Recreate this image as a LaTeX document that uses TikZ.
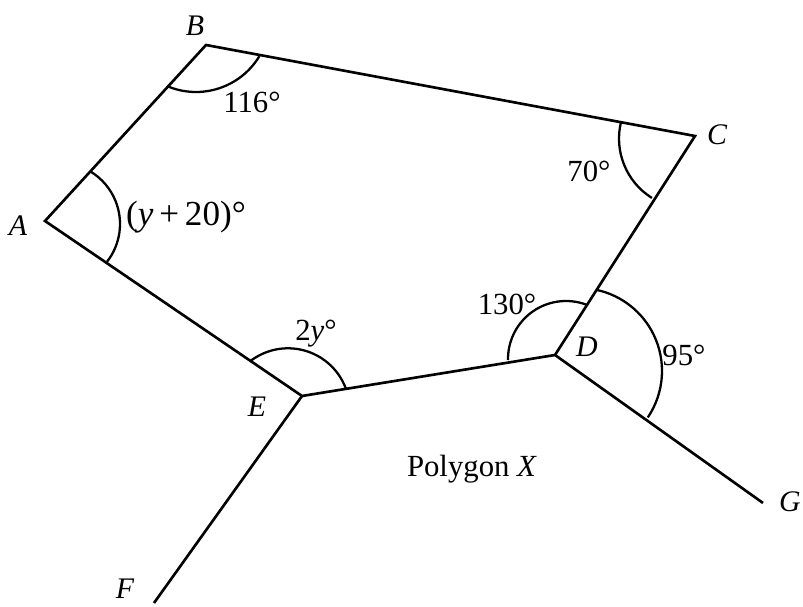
\documentclass[tikz,border=0pt]{standalone}
\usepackage{fontspec}
\setmainfont{Liberation Serif}
\begin{document}
\begin{tikzpicture}[x=0.02cm,y=0.02cm,line width=1.5pt,
    lbl/.style={font=\fontsize{17}{20}\selectfont\itshape},
    ang/.style={font=\fontsize{17.5}{20}\selectfont},
    arcline/.style={line width=1.3pt}]
       \useasboundingbox (0,0) rectangle (803,607);
       \coordinate (A) at (45,386);
       \coordinate (B) at (206,562);
       \coordinate (C) at (695,471);
       \coordinate (D) at (555,252);
       \coordinate (E) at (302,211);
       \coordinate (F) at (154,4);
       \coordinate (G) at (763,104);
       \draw[line join=miter] (A) -- (B) -- (C) -- (D) -- (E) -- cycle;
       \draw (E) -- (F);
       \draw (D) -- (G);
       % angle arcs
       \draw[arcline] (58.6,383) ++(-38:61.4) arc[start angle=-38, end angle=58, radius=61.4];
       \draw[arcline] (196,589) ++(247:74) arc[start angle=247, end angle=329, radius=74];
       \draw[arcline] (689,468.4) ++(166:70) arc[start angle=166, end angle=238, radius=70];
       \draw[arcline] (288,197) ++(20:61.7) arc[start angle=20, end angle=128, radius=61.7];
       \draw[arcline] (566,248) ++(69:58) arc[start angle=69, end angle=181, radius=58];
       \draw[arcline] (579,236) ++(-34:83) arc[start angle=-34, end angle=77.5, radius=83];
       % vertex labels
       \node[lbl] (lA) at (18,381) {A};
       \node[lbl] (lB) at (195,581) {B};
       \node[lbl] (lC) at (717,472) {C};
       \node[lbl] (lD) at (587,260) {D};
       \node[lbl] (lE) at (257,200) {E};
       \node[lbl] (lF) at (125,18) {F};
       \node[lbl] (lG) at (790,105) {G};
       % angle labels
       \node[ang] (aB) at (252,505) {116°};
       \node[ang] (aA) at (186,390) {\fontsize{20}{22}\selectfont(\textit{y}\,+\,20)°};
       \node[ang] (aC) at (589,436) {70°};
       \node[ang] (aD) at (507,303) {130°};
       \node[ang] (aE) at (316,273) {2\textit{y}°};
       \node[ang] (aG) at (684,252) {95°};
       \node[ang] (name) at (472,138) {Polygon \textit{X}};
\end{tikzpicture}
\end{document}
